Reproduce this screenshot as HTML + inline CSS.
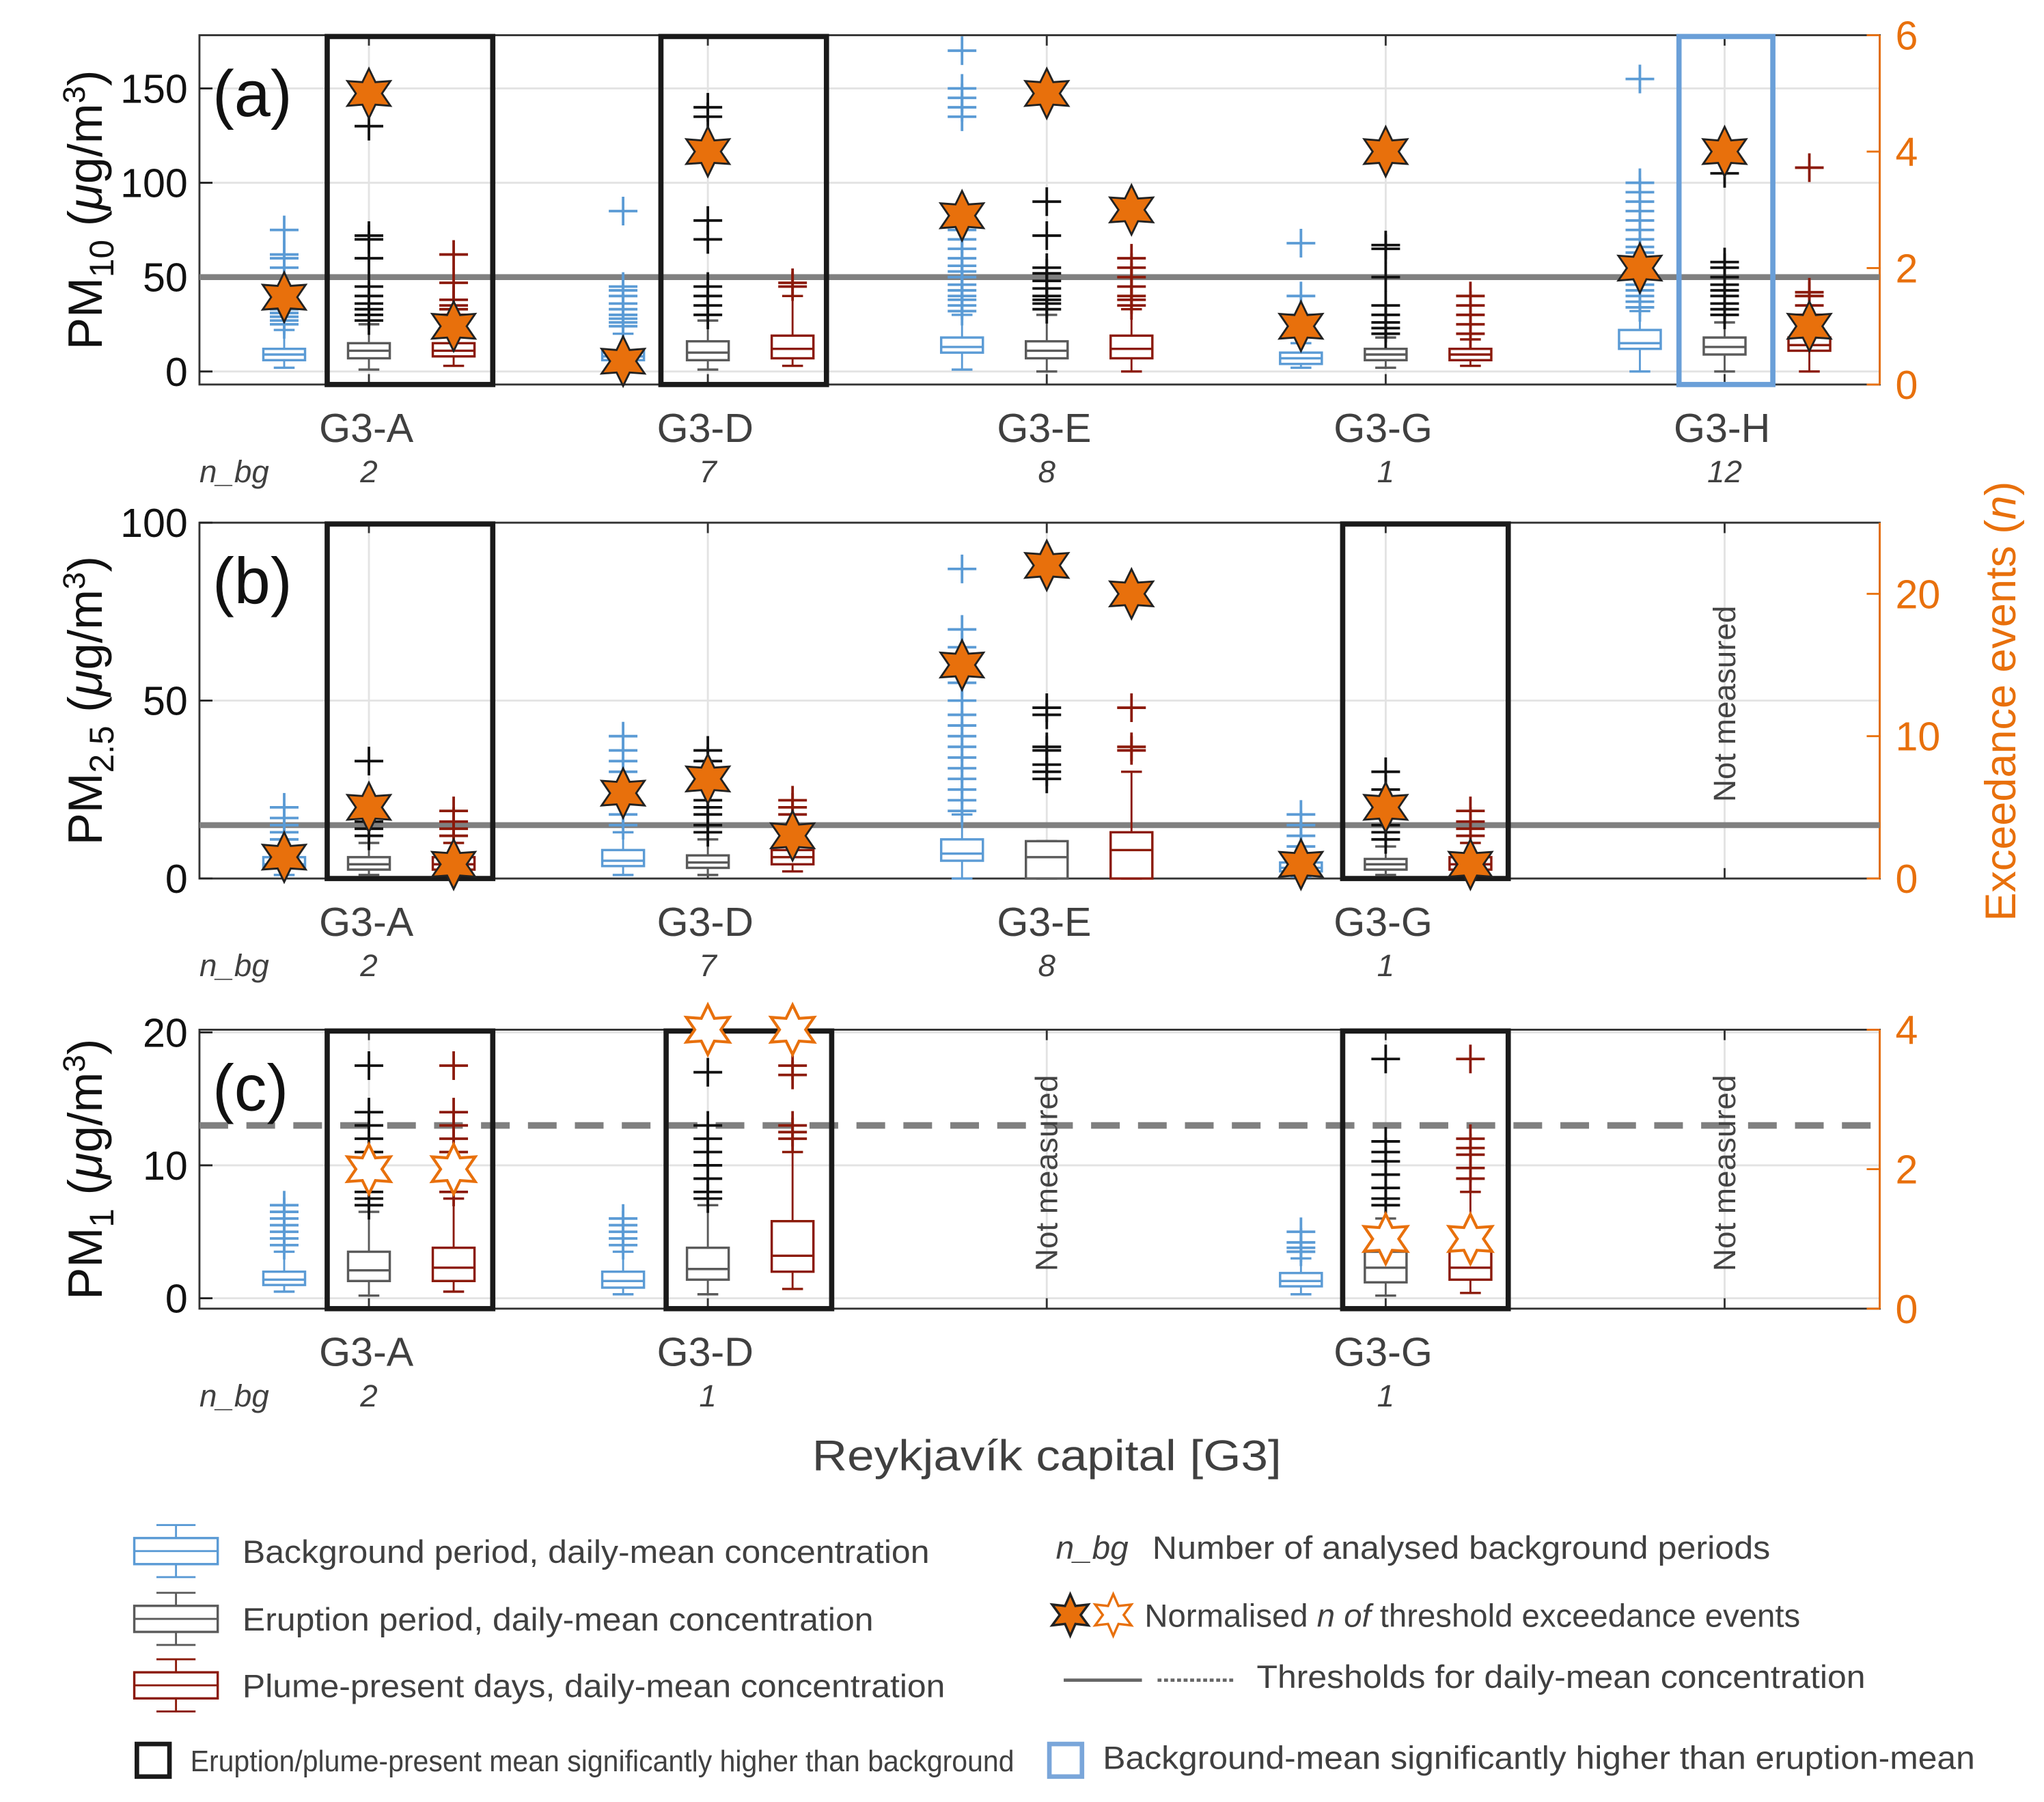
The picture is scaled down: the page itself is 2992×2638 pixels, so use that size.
<!DOCTYPE html>
<html><head><meta charset="utf-8"><style>
html,body{margin:0;padding:0;background:#fff}
svg{display:block}
text{font-family:"Liberation Sans",Arial,sans-serif}
</style></head><body>
<svg id="c" width="2992" height="2638" viewBox="0 0 1568 1382.5" xmlns="http://www.w3.org/2000/svg"></svg>
<script>
// ---- data ----
const groupsA = ["G3-A","G3-D","G3-E","G3-G","G3-H"];
const nbgA = ["2","7","8","1","12"];
const nbgB = ["2","7","8","1"];
const nbgC = ["2","1","","1"];
// box stats: [q1, median, q3, whiskerLow, whiskerHigh]
const pm10Bg = [[6,9,12,2,22],[6,8,11,2,20],[10,13,18,1,30],[4,7,10,2,15],[12,15,22,0,32]];
const pm10Er = [[7,11,15,1,25],[6,10,16,1,27],[7,11,16,0,30],[6,9,12,2,18],[9,13,18,0,26]];
const pm10Pl = [[8,11,15,3,27],[7,12,19,3,40],[7,12,19,0,33],[6,9,12,3,17],[11,14,18,0,26]];
const pm10BgOut = [[25,27,29,31,33,36,40,45,55,60,62,75],[24,26,28,30,33,36,40,43,45,85],[32,35,38,40,43,46,50,53,56,60,65,70,75,80,135,140,145,150,170],[20,25,30,40,68],[34,37,40,43,46,50,53,56,60,63,66,70,75,80,85,90,95,100,155]];
const pm10ErOut = [[27,30,33,36,40,45,60,70,72,130,145],[30,35,40,45,70,80,135,140],[33,36,38,40,44,48,52,55,72,90],[20,23,26,30,35,50,65,67],[30,33,36,40,43,46,50,55,58,105]];
const pm10PlOut = [[30,33,35,38,47,62],[45,47],[35,38,40,45,50,55,60],[20,25,30,35,40],[30,35,40,42,108]];
const pm10StarBg = [1.5,0.4,2.9,1,2];
const pm10StarEr = [5,4,5,4,4];
const pm10StarPl = [1,null,3,null,1];

const pm25Bg = [[3,4,6,1,9],[3.5,5,8,1,13],[5,7,11,0,18],[2,3,4.5,0.5,7]];
const pm25Er = [[2.5,4,6,1,10],[3,4.5,6.5,1,11],[0,6,10.5,0,10.5],[2.5,4,5.5,1,9]];
const pm25Pl = [[2.5,4,6,1,10],[4,6,8,2,13],[0,8,13,0,30],[2.5,4,6,1,10]];
const pm25BgOut = [[11,13,15,17,20],[15,18,21,24,27,30,33,36,40],[19,22,25,28,31,34,37,40,43,46,50,55,60,65,70,87],[9,12,15,18]];
const pm25ErOut = [[12,14,16,18,20,33],[13,15,18,20,22,33,36],[28,30,32,36,37,46,48],[11,13,15,18,25,30]];
const pm25PlOut = [[12,14,16,19],[15,18,20,22],[36,37,48],[12,14,16,19]];
const pm25StarBg = [1.5,6,15,1];
const pm25StarEr = [5,7,22,5];
const pm25StarPl = [1,3,20,1];

const pm1Bg = [[1,1.4,2,0.5,3.5],[0.8,1.3,2,0.3,3.5],null,[0.9,1.3,1.9,0.3,3]];
const pm1Er = [[1.3,2.1,3.5,0.2,6.5],[1.4,2.2,3.8,0.3,7],null,[1.2,2.3,3.5,0.2,6]];
const pm1Pl = [[1.3,2.3,3.8,0.5,7.5],[2,3.2,5.8,0.7,11],null,[1.4,2.3,3.6,0.4,8]];
const pm1BgOut = [[4,4.5,5,5.5,6,6.5,7],[4,4.5,5,5.5,6],[],[3.5,3.8,4.2,5]];
const pm1ErOut = [[7,7.5,8,9,10,11,12,13,14,17.5],[7.5,8,9,10,11,12,13,17],[],[7,7.5,8.3,9.3,10.3,11,11.8,18]];
const pm1PlOut = [[8,9,10,11,12,13,14,17.5],[12,12.5,13,16.8,17.5],[],[9,9.8,10.8,11.3,12,18]];
const pm1StarEr = [2,4,null,1];
const pm1StarPl = [2,4,null,1];

// ---- drawing ----
const NS="http://www.w3.org/2000/svg";
const svg=document.getElementById('c');
function el(tag,attrs,parent,txt){const e=document.createElementNS(NS,tag);for(const k in attrs)e.setAttribute(k,attrs[k]);if(txt!==undefined)e.textContent=txt;(parent||svg).appendChild(e);return e;}
const BLUE="#5b9bd5",GRAY="#5a5a5a",RED="#8b1a0a",ORANGE="#e8700c",TXT="#404040";
const X0=153,X1=1442;
const gx=i=>283+i*260;

function panel(cfg){
  const yL=v=>cfg.bot-(v-cfg.lmin)*(cfg.bot-cfg.top)/(cfg.lmax-cfg.lmin);
  const yR=v=>cfg.bot-v*(cfg.bot-cfg.top)/cfg.rmax;
  const g=el('g',{});
  
  
  cfg.lticks.forEach(t=>{el('line',{x1:X0,x2:X1,y1:yL(t),y2:yL(t),stroke:'#e3e3e3','stroke-width':1.5},g);});
  for(let i=0;i<5;i++){el('line',{x1:gx(i),x2:gx(i),y1:cfg.top,y2:cfg.bot,stroke:'#e3e3e3','stroke-width':1.5},g);}
  el('rect',{x:X0,y:cfg.top,width:X1-X0,height:cfg.bot-cfg.top,fill:'none',stroke:'#333','stroke-width':1.5},g);
  el('line',{x1:X1,x2:X1,y1:cfg.top,y2:cfg.bot,stroke:ORANGE,'stroke-width':1.5},g);
  cfg.lticks.forEach(t=>{
    el('line',{x1:X0,x2:X0+10,y1:yL(t),y2:yL(t),stroke:'#222','stroke-width':1.5},g);
    const tl=el('text',{x:X0-9,y:yL(t)+11,'text-anchor':'end','font-size':31,fill:'#111'},g,String(t));
    
    
  });
  cfg.rticks.forEach(t=>{
    el('line',{x1:X1-10,x2:X1,y1:yR(t),y2:yR(t),stroke:ORANGE,'stroke-width':1.5},g);
    const tr=el('text',{x:X1+12,y:yR(t)+11,'font-size':31,fill:ORANGE},g,String(t));
    
    
  });
  for(let i=0;i<5;i++){el('line',{x1:gx(i),x2:gx(i),y1:cfg.bot-8,y2:cfg.bot,stroke:'#333','stroke-width':1.5},g);el('line',{x1:gx(i),x2:gx(i),y1:cfg.top,y2:cfg.top+8,stroke:'#333','stroke-width':1.5},g);}
  el('line',{x1:X0,x2:X1,y1:yL(cfg.thr),y2:yL(cfg.thr),stroke:'#808080','stroke-width':cfg.dash?5:4.5,'stroke-dasharray':cfg.dash?'22,14':'none'},g);
  cfg.sig.forEach(s=>{
    const r=el('rect',{x:s[0],y:cfg.top+1,width:s[1]-s[0],height:cfg.bot-cfg.top-1,fill:'none',stroke:s[2],'stroke-width':4},g);
    
    
  });
  const series=[[cfg.bg,cfg.bgOut,BLUE,-65],[cfg.er,cfg.erOut,GRAY,0],[cfg.pl,cfg.plOut,RED,65]];
  series.forEach(([stats,outs,col,off],si)=>{
    stats.forEach((s,i)=>{
      if(!s) return;
      const cx=gx(i)+off, w=32;
      const bx=el('g',{},g);
      
      
      const oc=si===1?'#111':col;
      el('line',{x1:cx,x2:cx,y1:yL(s[0]),y2:yL(s[3]),stroke:col,'stroke-width':1.5},bx);
      el('line',{x1:cx,x2:cx,y1:yL(s[2]),y2:yL(s[4]),stroke:col,'stroke-width':1.5},bx);
      el('line',{x1:cx-8,x2:cx+8,y1:yL(s[3]),y2:yL(s[3]),stroke:col,'stroke-width':1.8},bx);
      el('line',{x1:cx-8,x2:cx+8,y1:yL(s[4]),y2:yL(s[4]),stroke:col,'stroke-width':1.8},bx);
      el('rect',{x:cx-w/2,y:yL(s[2]),width:w,height:Math.max(1,yL(s[0])-yL(s[2])),fill:'#fff',stroke:col,'stroke-width':1.8},bx);
      el('line',{x1:cx-w/2,x2:cx+w/2,y1:yL(s[1]),y2:yL(s[1]),stroke:col,'stroke-width':1.8},bx);
      (outs[i]||[]).forEach(v=>{
        const y=yL(v);
        el('line',{x1:cx-11,x2:cx+11,y1:y,y2:y,stroke:oc,'stroke-width':2},bx);
        el('line',{x1:cx,x2:cx,y1:y-11,y2:y+11,stroke:oc,'stroke-width':2},bx);
      });
    });
  });
  const star=(cx,cy,filled)=>{
    let p=[];for(let k=0;k<12;k++){const a=-Math.PI/2+k*Math.PI/6;const r=k%2?10:19;p.push((cx+r*Math.cos(a)).toFixed(1)+','+(cy+r*Math.sin(a)).toFixed(1));}
    const s=el('polygon',{points:p.join(' '),fill:filled?ORANGE:'#fff',stroke:filled?'#222':ORANGE,'stroke-width':filled?1.5:2.2},g);
    
    
  };
  [[cfg.sBg,-65],[cfg.sEr,0],[cfg.sPl,65]].forEach(([arr,off])=>{(arr||[]).forEach((v,i)=>{if(v!==null&&v!==undefined)star(gx(i)+off,yR(v),cfg.filled);});});
  (cfg.nm||[]).forEach(i=>{
    const t=el('text',{x:0,y:0,'font-size':24,fill:'#444','text-anchor':'middle',transform:`translate(${gx(i)+8},${cfg.nmY}) rotate(-90)`},g,'Not measured');
    
    
  });
  cfg.labels.forEach((lab,i)=>{
    if(lab===null) return;
    const t=el('text',{x:gx(i)-2,y:cfg.bot+44,'text-anchor':'middle','font-size':31,fill:TXT},g,lab);
    
    
  });
  el('text',{x:153,y:cfg.bot+75,'font-size':24,'font-style':'italic',fill:TXT},g,'n_bg');
  cfg.nbg.forEach((n,i)=>{if(n)el('text',{x:gx(i),y:cfg.bot+75,'text-anchor':'middle','font-size':24,'font-style':'italic',fill:TXT},g,n);});
  el('text',{x:163,y:cfg.top+62,'font-size':50,fill:'#111'},g,cfg.letter);
  const yt=el('text',{x:0,y:0,'font-size':37,fill:'#111','text-anchor':'middle',transform:`translate(78,${(cfg.top+cfg.bot)/2}) rotate(-90)`},g);
  
  yt.innerHTML=cfg.ytitle;
}
const unit='<tspan dy="-9">  (</tspan><tspan font-style="italic">μ</tspan>g/m<tspan font-size="24" dy="-13">3</tspan><tspan dy="13">)</tspan>';
panel({name:'panel-a-pm10',top:27,bot:295,lmin:-6.9,lmax:178.2,rmax:6,lticks:[0,50,100,150],rticks:[0,2,4,6],thr:50,dash:false,
 sig:[[251,378,'#1a1a1a'],[507,634,'#1a1a1a'],[1288,1360,'#6a9fd8']],
 bg:pm10Bg,er:pm10Er,pl:pm10Pl,bgOut:pm10BgOut,erOut:pm10ErOut,plOut:pm10PlOut,sBg:pm10StarBg,sEr:pm10StarEr,sPl:pm10StarPl,filled:true,
 labels:groupsA,nbg:nbgA,letter:'(a)',ytitle:'PM<tspan font-size="26" dy="9">10</tspan>'+unit});
panel({name:'panel-b-pm25',top:401,bot:674,lmin:0,lmax:100,rmax:25,lticks:[0,50,100],rticks:[0,10,20],thr:15,dash:false,
 sig:[[251,378,'#1a1a1a'],[1030,1157,'#1a1a1a']],
 bg:pm25Bg,er:pm25Er,pl:pm25Pl,bgOut:pm25BgOut,erOut:pm25ErOut,plOut:pm25PlOut,sBg:pm25StarBg,sEr:pm25StarEr,sPl:pm25StarPl,filled:true,
 nm:[4],nmY:540,labels:["G3-A","G3-D","G3-E","G3-G",null],nbg:nbgB,letter:'(b)',ytitle:'PM<tspan font-size="26" dy="9">2.5</tspan>'+unit});
panel({name:'panel-c-pm1',top:790,bot:1004,lmin:-0.78,lmax:20.2,rmax:4,lticks:[0,10,20],rticks:[0,2,4],thr:13,dash:true,
 sig:[[251,378,'#1a1a1a'],[511,638,'#1a1a1a'],[1030,1157,'#1a1a1a']],
 bg:pm1Bg,er:pm1Er,pl:pm1Pl,bgOut:pm1BgOut,erOut:pm1ErOut,plOut:pm1PlOut,sBg:null,sEr:pm1StarEr,sPl:pm1StarPl,filled:false,
 nm:[2,4],nmY:900,labels:["G3-A","G3-D",null,"G3-G",null],nbg:nbgC,letter:'(c)',ytitle:'PM<tspan font-size="26" dy="9">1</tspan>'+unit});

const rt=el('text',{x:0,y:0,'font-size':33,fill:ORANGE,'text-anchor':'middle',transform:'translate(1546,538) rotate(-90)'});


rt.innerHTML='Exceedance events (<tspan font-style="italic">n</tspan>)';
const xt=el('text',{x:623,y:1128,'font-size':33,fill:TXT,textLength:360,lengthAdjust:'spacingAndGlyphs'},undefined,'Reykjavík capital [G3]');



const lg=el('g',{});


function legBox(y,col,label,len){
  const cx=135;
  el('line',{x1:cx,x2:cx,y1:y-20,y2:y-10,stroke:col,'stroke-width':1.5},lg);
  el('line',{x1:cx-15,x2:cx+15,y1:y-20,y2:y-20,stroke:col,'stroke-width':1.5},lg);
  el('line',{x1:cx,x2:cx,y1:y+10,y2:y+20,stroke:col,'stroke-width':1.5},lg);
  el('line',{x1:cx-15,x2:cx+15,y1:y+20,y2:y+20,stroke:col,'stroke-width':1.5},lg);
  el('rect',{x:103,y:y-10,width:64,height:20,fill:'#fff',stroke:col,'stroke-width':1.8},lg);
  el('line',{x1:103,x2:167,y1:y,y2:y,stroke:col,'stroke-width':1.5},lg);
  el('text',{x:186,y:y+9,'font-size':25,fill:TXT,textLength:len,lengthAdjust:'spacingAndGlyphs'},lg,label);
}
legBox(1190,BLUE,'Background period, daily-mean concentration',527);
legBox(1242,GRAY,'Eruption period, daily-mean concentration',484);
legBox(1293,RED,'Plume-present days, daily-mean concentration',539);
el('rect',{x:105,y:1338,width:25,height:25,fill:'none',stroke:'#1a1a1a','stroke-width':3.5},lg);
el('text',{x:146,y:1359,'font-size':23,fill:TXT,textLength:632,lengthAdjust:'spacingAndGlyphs'},lg,'Eruption/plume-present mean significantly higher than background');
el('rect',{x:805,y:1338,width:25,height:25,fill:'none',stroke:'#7aa6da','stroke-width':3.5},lg);
el('text',{x:846,y:1357,'font-size':25,fill:TXT,textLength:669,lengthAdjust:'spacingAndGlyphs'},lg,'Background-mean significantly higher than eruption-mean');
el('text',{x:810,y:1196,'font-size':25,'font-style':'italic',fill:TXT},lg,'n_bg');
el('text',{x:884,y:1196,'font-size':25,fill:TXT,textLength:474,lengthAdjust:'spacingAndGlyphs'},lg,'Number of analysed background periods');
function lstar(cx,cy,filled){let p=[];for(let k=0;k<12;k++){const a=-Math.PI/2+k*Math.PI/6;const r=k%2?8:16;p.push((cx+r*Math.cos(a)).toFixed(1)+','+(cy+r*Math.sin(a)).toFixed(1));}el('polygon',{points:p.join(' '),fill:filled?ORANGE:'#fff',stroke:filled?'#222':ORANGE,'stroke-width':1.8},lg);}
lstar(821,1239,true);lstar(854,1239,false);
const ne=el('text',{x:878,y:1248,'font-size':25,fill:TXT,textLength:503,lengthAdjust:'spacingAndGlyphs'},lg);
ne.innerHTML='Normalised <tspan font-style="italic">n of</tspan> threshold exceedance events';
el('line',{x1:816,x2:876,y1:1289,y2:1289,stroke:'#666','stroke-width':2.5},lg);
el('line',{x1:888,x2:948,y1:1289,y2:1289,stroke:'#666','stroke-width':2.5,'stroke-dasharray':'3,2'},lg);
el('text',{x:964,y:1295,'font-size':25,fill:TXT,textLength:467,lengthAdjust:'spacingAndGlyphs'},lg,'Thresholds for daily-mean concentration');
</script>
</body></html>
